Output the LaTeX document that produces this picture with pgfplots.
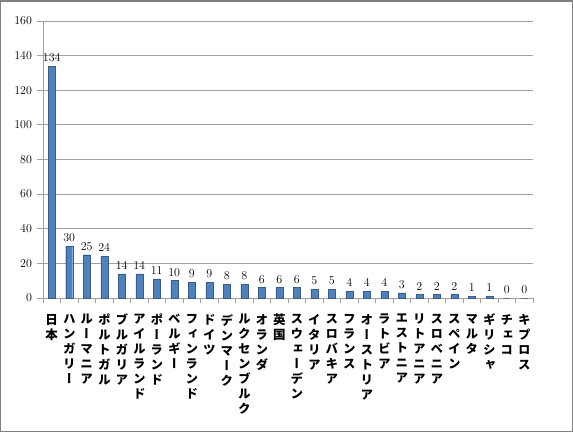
\documentclass[border=0pt]{standalone}
\usepackage{fontspec}
\usepackage{pgfplots}
\pgfplotsset{compat=1.18}
\newfontfamily\jpfont[RawFeature=+vert]{Noto Sans CJK JP}
\definecolor{barblue}{RGB}{79,129,189}
\definecolor{baredge}{RGB}{56,93,138}
\definecolor{gridgray}{RGB}{160,160,160}
\begin{document}
\begin{tikzpicture}
\begin{axis}[
  at={(0,0)}, anchor=south west,
  scale only axis, width=490pt, height=277pt,
  ybar, bar width=7pt,
  xmin=-0.5, xmax=27.5, ymin=0, ymax=160,
  ytick={0,20,...,160},
  xtick={0,...,27},
  minor xtick={-0.5,0.5,...,27.5},
  xticklabels={{日\\本},{ハ\\ン\\ガ\\リ\\ー},{ル\\ー\\マ\\ニ\\ア},{ポ\\ル\\ト\\ガ\\ル},{ブ\\ル\\ガ\\リ\\ア},{ア\\イ\\ル\\ラ\\ン\\ド},{ポ\\ー\\ラ\\ン\\ド},{ベ\\ル\\ギ\\ー},{フ\\ィ\\ン\\ラ\\ン\\ド},{ド\\イ\\ツ},{デ\\ン\\マ\\ー\\ク},{ル\\ク\\セ\\ン\\ブ\\ル\\ク},{オ\\ラ\\ン\\ダ},{英\\国},{ス\\ウ\\ェ\\ー\\デ\\ン},{イ\\タ\\リ\\ア},{ス\\ロ\\バ\\キ\\ア},{フ\\ラ\\ン\\ス},{オ\\ー\\ス\\ト\\リ\\ア},{ラ\\ト\\ビ\\ア},{エ\\ス\\ト\\ニ\\ア},{リ\\ト\\ア\\ニ\\ア},{ス\\ロ\\ベ\\ニ\\ア},{ス\\ペ\\イ\\ン},{マ\\ル\\タ},{ギ\\リ\\シ\\ャ},{チ\\ェ\\コ},{キ\\プ\\ロ\\ス}},
  x tick label style={font=\jpfont\bfseries\fontsize{12.5}{15}\selectfont, align=center, anchor=north, yshift=-10pt, inner sep=0pt},
  y tick label style={font=\fontsize{13}{15}\selectfont, xshift=-1.5pt},
  axis x line*=bottom, axis y line*=left,
  axis line style={draw=gridgray, line width=0.8pt, -},
  tick align=outside,
  major tick length=6pt, minor tick length=5pt,
  major x tick style={draw=none},
  minor x tick style={draw=gridgray, line width=0.8pt},
  major y tick style={draw=gridgray, line width=0.8pt},
  ymajorgrids, grid style={draw=gridgray, line width=0.8pt},
  nodes near coords,
  every node near coord/.append style={font=\fontsize{13}{15}\selectfont, text=black, yshift=1pt},
]
\addplot[fill=barblue, draw=baredge] coordinates {
(0,134) (1,30) (2,25) (3,24) (4,14) (5,14) (6,11) (7,10) (8,9) (9,9)
(10,8) (11,8) (12,6) (13,6) (14,6) (15,5) (16,5) (17,4) (18,4) (19,4)
(20,3) (21,2) (22,2) (23,2) (24,1) (25,1) (26,0) (27,0)};
\end{axis}
\pgfresetboundingbox
\useasboundingbox (-43pt,-134pt) rectangle (530pt,298pt);
\draw[draw=gray, line width=1.5pt] (-42.25pt,-133.25pt) rectangle (529.25pt,297.25pt);
\end{tikzpicture}
\end{document}
